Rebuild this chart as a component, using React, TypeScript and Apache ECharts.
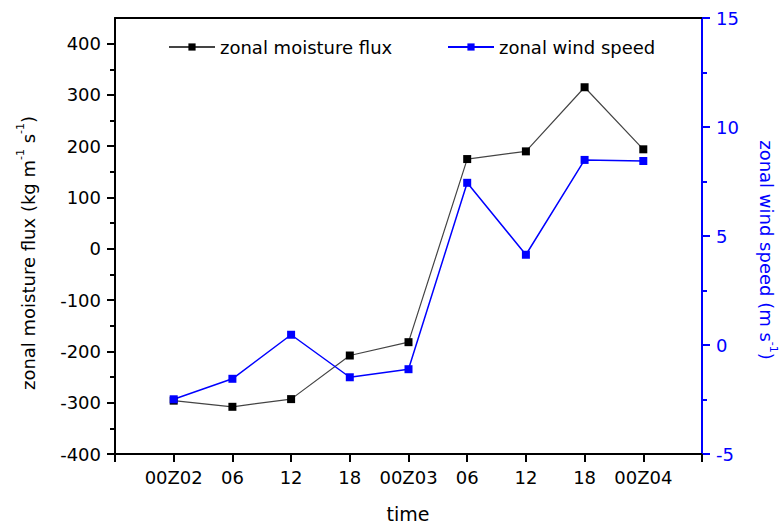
import React, { useEffect, useRef } from "react";
import * as echarts from "echarts";

const categories = ["00Z02", "06", "12", "18", "00Z03", "06", "12", "18", "00Z04"];
const moistureFlux = [-296, -308, -293, -208, -182, 175, 190, 315, 194];
const windSpeed = [-2.49, -1.55, 0.47, -1.48, -1.11, 7.44, 4.14, 8.49, 8.44];

const FONT = "'DejaVu Sans', 'Liberation Sans', Arial, sans-serif";

export default function App() {
  const ref = useRef<HTMLDivElement>(null);
  useEffect(() => {
    if (!ref.current) return;
    const chart = echarts.init(ref.current, undefined, { renderer: "svg" });
    const plotTop = 18;
    const plotBottom = 454;
    const leftMin = -400;
    const leftMax = 450;
    const pxPerUnit = (plotBottom - plotTop) / (leftMax - leftMin);
    const innerTop = plotTop + (leftMax - 400) * pxPerUnit;

    chart.setOption({
      animation: false,
      backgroundColor: "#fff",
      textStyle: { fontFamily: FONT },
      grid: [
        { left: 115, right: 80, top: plotTop, bottom: 527 - plotBottom },
        { left: 115, right: 80, top: innerTop, bottom: 527 - plotBottom },
      ],
      legend: [
        {
          data: ["zonal moisture flux"],
          left: 163,
          top: 33,
          itemWidth: 46,
          itemHeight: 9,
          textStyle: { fontSize: 18, color: "#000", fontFamily: FONT },
        },
        {
          data: ["zonal wind speed"],
          left: 442,
          top: 33,
          itemWidth: 46,
          itemHeight: 9,
          textStyle: { fontSize: 18, color: "#000", fontFamily: FONT },
        },
      ],
      xAxis: [
        {
          type: "value",
          gridIndex: 0,
          min: -1,
          max: 9,
          interval: 1,
          axisLine: { onZero: false, lineStyle: { color: "#000", width: 2 } },
          axisTick: { show: true, inside: false, length: 8, lineStyle: { color: "#000", width: 2 } },
          axisLabel: {
            margin: 14,
            fontSize: 18,
            color: "#000",
            fontFamily: FONT,
            formatter: (v: number) => {
              const i = Math.round(v);
              return i >= 0 && i < categories.length ? categories[i] : "";
            },
          },
          splitLine: { show: false },
        },
        {
          type: "value",
          gridIndex: 1,
          min: -1,
          max: 9,
          show: false,
        },
        {
          type: "value",
          gridIndex: 0,
          position: "top",
          min: -1,
          max: 9,
          axisLine: { show: true, onZero: false, lineStyle: { color: "#000", width: 2 } },
          axisTick: { show: false },
          axisLabel: { show: false },
          splitLine: { show: false },
        },
      ],
      yAxis: [
        {
          type: "value",
          gridIndex: 0,
          min: leftMin,
          max: leftMax,
          position: "left",
          axisLine: { show: true, onZero: false, lineStyle: { color: "#000", width: 2 } },
          axisTick: { show: false },
          axisLabel: { show: false },
          splitLine: { show: false },
        },
        {
          type: "value",
          gridIndex: 0,
          min: -5,
          max: 15,
          interval: 5,
          position: "right",
          axisLine: { show: true, onZero: false, lineStyle: { color: "#0000ff", width: 2 } },
          axisTick: { show: true, inside: false, length: 8, lineStyle: { color: "#0000ff", width: 2 } },
          minorTick: { show: true, splitNumber: 2, length: 5, lineStyle: { color: "#0000ff", width: 2 } },
          axisLabel: { margin: 14, fontSize: 18, color: "#0000ff", fontFamily: FONT },
          splitLine: { show: false },
        },
        {
          type: "value",
          gridIndex: 1,
          min: -400,
          max: 400,
          interval: 100,
          position: "left",
          axisLine: { show: false, onZero: false },
          axisTick: { show: true, inside: false, length: 8, lineStyle: { color: "#000", width: 2 } },
          minorTick: { show: true, splitNumber: 2, length: 5, lineStyle: { color: "#000", width: 2 } },
          axisLabel: { margin: 14, fontSize: 18, color: "#000", fontFamily: FONT },
          splitLine: { show: false },
        },
      ],
      series: [
        {
          name: "zonal moisture flux",
          type: "line",
          xAxisIndex: 0,
          yAxisIndex: 0,
          data: moistureFlux.map((v, i) => [i, v]),
          symbol: "rect",
          symbolSize: 8,
          lineStyle: { color: "#444", width: 1.2 },
          itemStyle: { color: "#000" },
        },
        {
          name: "zonal wind speed",
          type: "line",
          xAxisIndex: 0,
          yAxisIndex: 1,
          data: windSpeed.map((v, i) => [i, v]),
          symbol: "rect",
          symbolSize: 8,
          lineStyle: { color: "#0000ff", width: 1.5 },
          itemStyle: { color: "#0000ff" },
        },
      ],
      graphic: [
        {
          type: "text",
          x: 28,
          y: 253,
          rotation: Math.PI / 2,
          style: {
            text: "zonal moisture flux (kg m{sup|-1} s{sup|-1})",
            fontSize: 18,
            fontFamily: FONT,
            fill: "#000",
            align: "center",
            verticalAlign: "middle",
            lineHeight: 26,
            rich: {
              sup: { fontSize: 11, lineHeight: 12, verticalAlign: "top", fill: "#000", fontFamily: FONT },
            },
          },
        },
        {
          type: "text",
          x: 766,
          y: 250,
          rotation: -Math.PI / 2,
          style: {
            text: "zonal wind speed (m s{sup|-1})",
            fontSize: 18,
            fontFamily: FONT,
            fill: "#0000ff",
            align: "center",
            verticalAlign: "middle",
            lineHeight: 26,
            rich: {
              sup: { fontSize: 11, lineHeight: 12, verticalAlign: "top", fill: "#0000ff", fontFamily: FONT },
            },
          },
        },
        {
          type: "text",
          x: 408,
          y: 514,
          style: {
            text: "time",
            fontSize: 19,
            fontFamily: FONT,
            fill: "#000",
            align: "center",
            verticalAlign: "middle",
          },
        },
      ],
    });
    return () => chart.dispose();
  }, []);
  return (
    <div
      ref={ref}
      style={{ position: "fixed", left: 0, top: 0, width: 782, height: 527, background: "#fff" }}
    />
  );
}
